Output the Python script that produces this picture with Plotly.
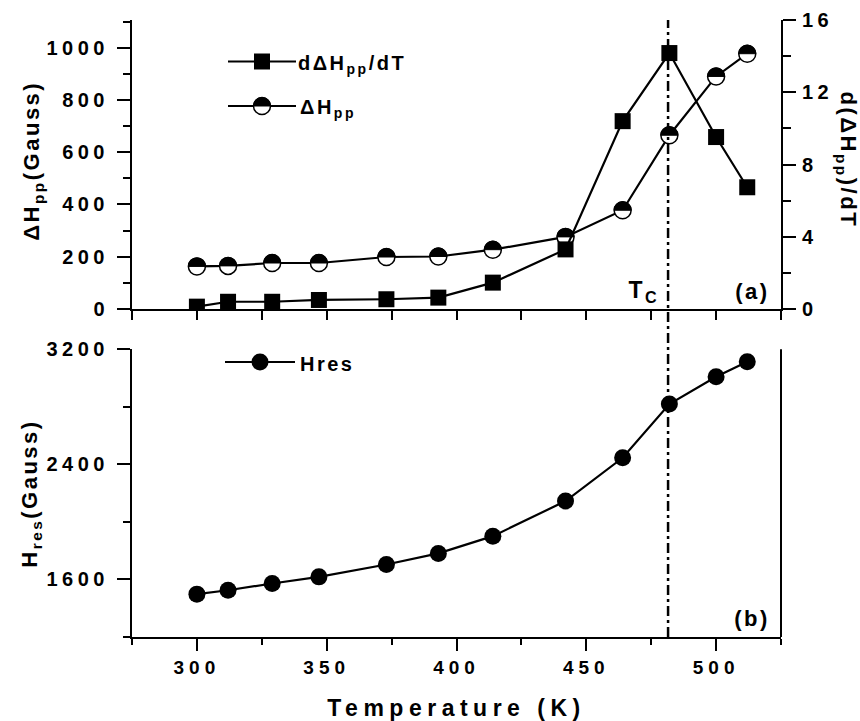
import plotly.graph_objects as go

# ---------------- data ----------------
TEMP = [300, 312, 329, 347, 373, 393, 414, 442, 464, 482, 500, 512]
DHPP = [163, 165, 176, 176, 199, 201, 227, 276, 378, 665, 890, 977]          # Gauss (left axis, panel a)
DDHPP_DT = [0.13, 0.4, 0.4, 0.5, 0.54, 0.63, 1.46, 3.3, 10.4, 14.17, 9.52, 6.74]  # right axis, panel a
HRES = [1498, 1525, 1572, 1618, 1704, 1781, 1901, 2145, 2446, 2819, 3009, 3113]   # Gauss, panel b
TC = 481.5

X_TICKS = [300, 350, 400, 450, 500]
YA_TICKS = [0, 200, 400, 600, 800, 1000]
YR_TICKS = [0, 4, 8, 12, 16]
YB_TICKS = [1600, 2400, 3200]

FONT = "Liberation Sans, Arial, sans-serif"
BLACK = "black"

fig = go.Figure()

fig.add_trace(go.Scatter(
    x=TEMP, y=DDHPP_DT, xaxis="x", yaxis="y2", mode="lines+markers",
    line=dict(color=BLACK, width=2.2),
    marker=dict(symbol="square", size=16, color=BLACK),
    showlegend=False, name="dΔHpp/dT"))

fig.add_trace(go.Scatter(
    x=TEMP, y=DHPP, xaxis="x", yaxis="y", mode="lines+markers",
    line=dict(color=BLACK, width=2.2),
    marker=dict(symbol="circle", size=17, color="white", line=dict(color=BLACK, width=1.5)),
    showlegend=False, name="ΔHpp"))

fig.add_trace(go.Scatter(
    x=TEMP, y=HRES, xaxis="x2", yaxis="y3", mode="lines+markers",
    line=dict(color=BLACK, width=2.2),
    marker=dict(symbol="circle", size=17, color=BLACK),
    showlegend=False, name="Hres"))

R = 8.5
K = 0.5523 * R
HALF_TOP = f"M {-R},0 C {-R},{K} {-K},{R} 0,{R} C {K},{R} {R},{K} {R},0 Z"

shapes = []
# top half of the half-filled markers
for xv, yv in zip(TEMP, DHPP):
    shapes.append(dict(type="path", xref="x", yref="y", xsizemode="pixel", ysizemode="pixel",
                       xanchor=xv, yanchor=yv, path=HALF_TOP,
                       fillcolor=BLACK, line=dict(color=BLACK, width=1)))

# Tc dash-dot line
shapes.append(dict(type="line", xref="x", yref="paper", x0=TC, x1=TC, y0=0, y1=1,
                   line=dict(color=BLACK, width=2.5, dash="10px,4px,3px,4px")))
# right border of panel b
shapes.append(dict(type="line", xref="x2 domain", yref="y3 domain", x0=1, x1=1, y0=0, y1=1,
                   line=dict(color=BLACK, width=2)))

# ---------------- manual legends ----------------
W, H = 649.0, 617.0
def px(x):
    return (x - 132) / W
def py(y):
    return (637 - y) / H

def leg_line(x0, x1, y):
    shapes.append(dict(type="line", xref="paper", yref="paper", x0=px(x0), x1=px(x1),
                       y0=py(y), y1=py(y), line=dict(color=BLACK, width=2)))

leg_line(228, 296, 61.5)
shapes.append(dict(type="rect", xref="paper", yref="paper", xsizemode="pixel", ysizemode="pixel",
                   xanchor=px(262), yanchor=py(61.5), x0=-8, x1=8, y0=-8, y1=8,
                   fillcolor=BLACK, line=dict(color=BLACK, width=0)))
leg_line(228, 296, 106)
shapes.append(dict(type="circle", xref="paper", yref="paper", xsizemode="pixel", ysizemode="pixel",
                   xanchor=px(262), yanchor=py(106), x0=-R, x1=R, y0=-R, y1=R,
                   fillcolor="white", line=dict(color=BLACK, width=1.5)))
shapes.append(dict(type="path", xref="paper", yref="paper", xsizemode="pixel", ysizemode="pixel",
                   xanchor=px(262), yanchor=py(106), path=HALF_TOP,
                   fillcolor=BLACK, line=dict(color=BLACK, width=1)))
leg_line(225, 295, 362)
shapes.append(dict(type="circle", xref="paper", yref="paper", xsizemode="pixel", ysizemode="pixel",
                   xanchor=px(260), yanchor=py(362), x0=-R, x1=R, y0=-R, y1=R,
                   fillcolor=BLACK, line=dict(color=BLACK, width=0)))

def ann(text, x, y, size=20, xanchor="left", angle=0):
    return dict(text=text, xref="paper", yref="paper", x=x, y=y, xanchor=xanchor, yanchor="middle",
                showarrow=False, textangle=angle,
                font=dict(family=FONT, size=size, color=BLACK, weight="bold"))

annotations = [
    ann("dΔH<sub>pp</sub>/dT", px(306), py(64)),
    ann("ΔH<sub>pp</sub>", px(303), py(109)),
    ann("Hres", px(303), py(364)),
    ann("(a)", px(752), py(291), size=22, xanchor="center"),
    ann("(b)", px(752), py(618), size=22, xanchor="center"),
    ann("T<sub>C</sub>", px(644), py(291), size=23, xanchor="center"),
    ann("ΔH<sub>pp</sub>(Gauss)", px(33), py(161), size=22, xanchor="center", angle=-90),
    ann("H<sub>res</sub>(Gauss)", px(31), py(494), size=22, xanchor="center", angle=-90),
    ann("d(ΔH<sub>pp</sub>)/dT", px(847), py(160), size=22, xanchor="center", angle=90),
]

tickfont = dict(family=FONT, size=20, color=BLACK, weight="bold")
xtickfont = dict(family=FONT, size=19, color=BLACK, weight="bold")
common = dict(showline=True, linecolor=BLACK, linewidth=2, showgrid=False, zeroline=False,
              tickcolor=BLACK, tickwidth=2, automargin=False)

top_dom = [(637 - 309) / H, 1.0]
bot_dom = [0.0, (637 - 349.3) / H]
XR = [275, 525]

fig.update_layout(
    width=860, height=721,
    margin=dict(l=132, r=79, t=20, b=84, autoexpand=False),
    paper_bgcolor="white", plot_bgcolor="white",
    showlegend=False,
    shapes=shapes, annotations=annotations,
    xaxis=dict(domain=[0, 1], anchor="y", range=XR, ticks="outside", ticklen=9,
               tickmode="linear", tick0=275, dtick=25, showticklabels=False, **common),
    xaxis3=dict(overlaying="x", side="top", anchor="y", range=XR, ticks="inside", ticklen=8,
                tickmode="linear", tick0=275, dtick=25, showticklabels=False, **common),
    yaxis=dict(domain=top_dom, anchor="x", range=[0, 1106], ticks="outside", ticklen=13,
               tickmode="array", tickvals=YA_TICKS, ticktext=[str(v) for v in YA_TICKS],
               minor=dict(tickmode="linear", tick0=100, dtick=200, ticklen=7, tickwidth=2,
                          tickcolor=BLACK, ticks="outside"),
               tickfont=tickfont, ticklabelstandoff=4, **common),
    yaxis2=dict(overlaying="y", side="right", anchor="x", range=[0, 16], ticks="outside", ticklen=13,
                tickmode="array", tickvals=YR_TICKS, ticktext=[str(v) for v in YR_TICKS],
                minor=dict(tickmode="linear", tick0=2, dtick=4, ticklen=8, tickwidth=2,
                           tickcolor=BLACK, ticks="outside"),
                tickfont=tickfont, ticklabelstandoff=2, **common),
    xaxis2=dict(domain=[0, 1], anchor="y3", range=XR, ticks="outside", ticklen=12,
                tickmode="array", tickvals=X_TICKS, ticktext=[str(v) for v in X_TICKS],
                minor=dict(tickmode="linear", tick0=275, dtick=50, ticklen=6, tickwidth=2,
                           tickcolor=BLACK, ticks="outside"),
                tickfont=xtickfont,
                title=dict(text="Temperature (K)", standoff=33,
                           font=dict(family=FONT, size=23, color=BLACK, weight="bold")),
                **common),
    yaxis3=dict(domain=bot_dom, anchor="x2", range=[1200, 3200], ticks="outside", ticklen=13,
                tickmode="array", tickvals=YB_TICKS, ticktext=[str(v) for v in YB_TICKS],
                minor=dict(tickmode="linear", tick0=1200, dtick=800, ticklen=7, tickwidth=2,
                           tickcolor=BLACK, ticks="outside"),
                tickfont=tickfont, ticklabelstandoff=4, **common),
)

post = """
var s = document.createElement('style');
s.textContent = 'html, body {margin: 0; padding: 0; overflow: hidden;}' +
  '.xtick text, .x2tick text {letter-spacing: 5px;}' +
  '.ytick text, .y2tick text, .y3tick text {letter-spacing: 4.5px;}' +
  '.x2title {letter-spacing: 5.5px;}' +
  '.annotation-text {letter-spacing: 2.5px;}';
document.head.appendChild(s);
"""

fig.write_html("out.html", post_script=post, config={"displayModeBar": False})
